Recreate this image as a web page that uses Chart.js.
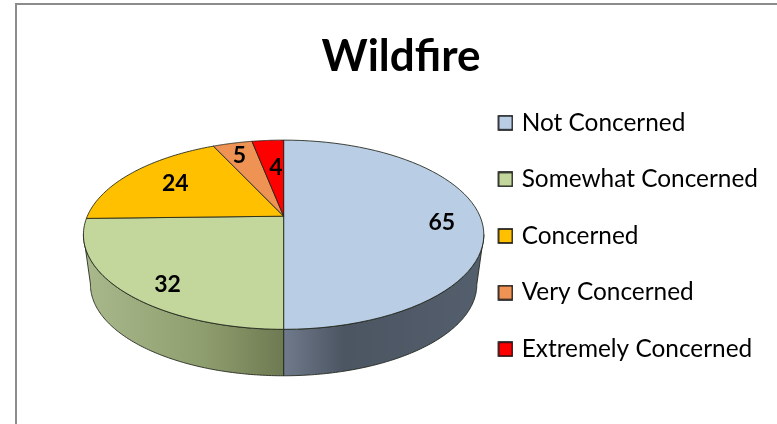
<!DOCTYPE html>
<html><head><meta charset="utf-8">
<style>html,body{margin:0;padding:0;background:#fff}#w{width:777px;height:424px;position:relative}</style>
<script src="https://cdn.jsdelivr.net/npm/chart.js@4"></script>
</head><body><div id="w"><canvas id="c"></canvas></div>
<script>
const categories = ['Not Concerned','Somewhat Concerned','Concerned','Very Concerned','Extremely Concerned'];
const values = [65,32,24,5,4];
const colors = ['#b9cde5','#c3d69b','#ffc000','#ee9353','#ff0000'];
const chartTitle = 'Wildfire';
const labelNudges = [[5,6],[4,11],[12,2],[-3,-2],[5,13]];

// perspective of the tilted disc, as ratios of the pie radius the library computes
const K = 0.196, AX = 1.161, AY = 0.538, LIFT = -0.226, DEPTH = 0.298, Q = 0.965;
function project(el, a, f){
  const R = el.outerRadius, u = Math.cos(a)*f, v = Math.sin(a)*f, s = 1/(1-K*v);
  return {x: el.x + R*AX*u*s, y: el.y + R*LIFT + R*AY*v*s};
}
function lower(el, p){
  const R = el.outerRadius, ay = el.y + R*LIFT;
  return {x: el.x + (p.x-el.x)*Q, y: ay + R*DEPTH + (p.y-ay)*Q};
}
const EDGE = 'rgba(30,35,25,0.85)';
Chart.ArcElement.prototype.draw = function(ctx){
  const o = this.options, n = 60;
  ctx.save();
  ctx.beginPath();
  const c = project(this, 0, 0);
  ctx.moveTo(c.x, c.y);
  for(let i=0;i<=n;i++){
    const p = project(this, this.startAngle+(this.endAngle-this.startAngle)*i/n, 1);
    ctx.lineTo(p.x,p.y);
  }
  ctx.closePath();
  ctx.fillStyle = o.backgroundColor; ctx.fill();
  ctx.strokeStyle = EDGE; ctx.lineWidth = 1; ctx.lineJoin='round'; ctx.stroke();
  ctx.restore();
};
function swatch(color){
  const cv = document.createElement('canvas'); cv.width = 18; cv.height = 16;
  const x = cv.getContext('2d');
  x.fillStyle = color; x.fillRect(3,1,14,14);
  x.strokeStyle = '#111'; x.lineWidth = 1.6; x.strokeRect(3,1,14,14);
  return cv;
}
const wallPlugin = {
  id:'wall',
  beforeDraw(chart){
    const ctx = chart.ctx; ctx.save();
    ctx.fillStyle='#8c8c8c';
    ctx.fillRect(15,3,762,2); ctx.fillRect(15,3,2,421);
    ctx.restore();
  },
  beforeDatasetsDraw(chart){
    const ctx = chart.ctx, arcs = chart.getDatasetMeta(0).data;
    arcs.forEach((el,i)=>{
      const a0 = Math.max(el.startAngle,0), a1 = Math.min(el.endAngle,Math.PI);
      if(a1-a0 < 0.1) return;
      const n=120;
      let top=[];
      for(let k=0;k<=n;k++) top.push(project(el,a0+(a1-a0)*k/n,1));
      // keep the arc only up to its widest point, so the wall's side edge is the silhouette
      const xs = top.map(p=>p.x), midFacing = (a0+a1)/2 > Math.PI/2;
      if(midFacing){ top = top.slice(0, xs.indexOf(Math.min(...xs))+1); }
      else { top = top.slice(xs.indexOf(Math.max(...xs))); }
      const bot = top.map(p=>lower(el,p));
      const left = Math.min(...top.map(p=>p.x)), right = Math.max(...top.map(p=>p.x));
      const g = ctx.createLinearGradient(left,0,right,0);
      if(i===0){ g.addColorStop(0,'#6f7a8c'); g.addColorStop(0.3,'#4c5562'); g.addColorStop(1,'#545f6d'); }
      else { g.addColorStop(0,'#a9b98c'); g.addColorStop(0.6,'#8f9e6e'); g.addColorStop(1,'#6e7a52'); }
      ctx.save();
      ctx.beginPath();
      top.forEach((p,k)=>k?ctx.lineTo(p.x,p.y):ctx.moveTo(p.x,p.y));
      bot.slice().reverse().forEach(p=>ctx.lineTo(p.x,p.y));
      ctx.closePath();
      ctx.fillStyle=g; ctx.fill();
      ctx.strokeStyle=EDGE; ctx.lineWidth=1; ctx.stroke();
      ctx.restore();
    });
  },
  afterDatasetsDraw(chart){
    const ctx = chart.ctx, arcs = chart.getDatasetMeta(0).data;
    ctx.save();
    ctx.font='bold 23px Lato'; ctx.fillStyle='#000'; ctx.textAlign='center'; ctx.textBaseline='middle';
    arcs.forEach((el,i)=>{
      const p = project(el,(el.startAngle+el.endAngle)/2,0.78);
      ctx.fillText(String(values[i]),p.x+labelNudges[i][0],p.y+labelNudges[i][1]);
    });
    ctx.restore();
  },
  afterLayout(chart){
    chart.titleBlock.left -= 33; chart.titleBlock.right -= 33;
    chart.titleBlock.top += 2; chart.titleBlock.bottom += 2;
    chart.legend.top += 14; chart.legend.bottom += 14;
  }
};
new Chart(document.getElementById('c'),{
  type:'pie',
  plugins:[wallPlugin],
  data:{labels:categories,datasets:[{data:values,backgroundColor:colors,borderColor:'#222',borderWidth:1}]},
  options:{
    responsive:true,maintainAspectRatio:false,animation:false,
    layout:{padding:{left:100,right:9,top:20,bottom:0}},
    plugins:{
      tooltip:{enabled:false},
      title:{display:true,text:chartTitle,color:'#000',font:{family:'Lato',size:44,weight:'bold'},padding:{top:8,bottom:4}},
      legend:{position:'right',align:'center',
        labels:{usePointStyle:true,pointStyleWidth:10,padding:32.2,color:'#000',font:{family:'Lato',size:24.4},
          generateLabels(chart){
            return categories.map((t,i)=>({text:t,fillStyle:colors[i],strokeStyle:'#111',lineWidth:0,pointStyle:swatch(colors[i]),index:i,hidden:false,fontColor:'#000'}));
          }}}
    }
  }
});
</script></body></html>
